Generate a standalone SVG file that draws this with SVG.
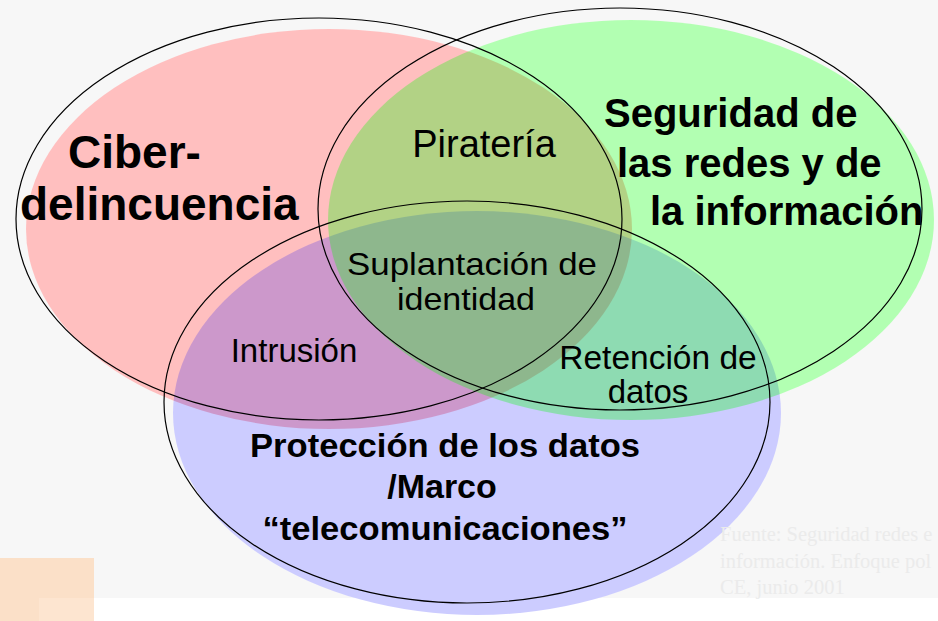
<svg xmlns="http://www.w3.org/2000/svg" width="938" height="621" viewBox="0 0 938 621">
<style>
.outline{fill:none;stroke:#000;stroke-width:1.2}
.title{font-family:"Liberation Sans",Arial,sans-serif;font-weight:bold;fill:#000}
.lbl{font-family:"Liberation Sans",Arial,sans-serif;fill:#000}
.src{font-family:"Liberation Serif","Times New Roman",serif;font-size:20.5px;fill:#ebebeb}
</style>
<rect x="0" y="0" width="938" height="598" fill="#f7f7f7"/>
<rect x="39" y="598" width="876" height="23" fill="#ffffff"/>
<rect x="0" y="558" width="94" height="63" fill="#fbe0c8"/>
<rect x="39" y="598" width="55" height="23" fill="#fde5d0"/>
<g id="fills">
  <ellipse cx="329" cy="229" rx="303" ry="200" fill="#fff"/>
  <ellipse cx="631" cy="220" rx="303" ry="200" fill="#fff"/>
  <ellipse cx="477" cy="413" rx="304" ry="202" fill="#fff"/>
  <ellipse cx="329" cy="229" rx="303" ry="200" fill="#ff0000" fill-opacity="0.25"/>
  <ellipse cx="477" cy="413" rx="304" ry="202" fill="#0000ff" fill-opacity="0.2"/>
  <ellipse cx="631" cy="220" rx="303" ry="200" fill="#00ff00" fill-opacity="0.3"/>
</g>
<g id="node-ciberdelincuencia">
  <ellipse class="outline" cx="319" cy="219" rx="303" ry="201"/>
  <text class="title" font-size="46" x="68" y="168">Ciber-</text>
  <text class="title" font-size="46" x="20" y="220">delincuencia</text>
</g>
<g id="node-seguridad">
  <ellipse class="outline" cx="620" cy="209" rx="302" ry="201"/>
  <text class="title" font-size="40" x="604" y="127">Seguridad de</text>
  <text class="title" font-size="40" x="617" y="177">las redes y de</text>
  <text class="title" font-size="40" x="650" y="225">la información</text>
</g>
<g id="node-proteccion">
  <ellipse class="outline" cx="467" cy="402" rx="303" ry="201"/>
  <text class="title" font-size="34" x="445" y="457" text-anchor="middle" textLength="390" lengthAdjust="spacingAndGlyphs">Protección de los datos</text>
  <text class="title" font-size="34" x="442" y="498" text-anchor="middle">/Marco</text>
  <text class="title" font-size="34" x="445" y="540" text-anchor="middle" textLength="365" lengthAdjust="spacingAndGlyphs">“telecomunicaciones”</text>
</g>
<g id="label-pirateria">
  <text class="lbl" font-size="38" x="484" y="157" text-anchor="middle">Piratería</text>
</g>
<g id="label-suplantacion">
  <text class="lbl" font-size="32" x="472" y="275" text-anchor="middle" textLength="250" lengthAdjust="spacingAndGlyphs">Suplantación de</text>
  <text class="lbl" font-size="32" x="466" y="310" text-anchor="middle" textLength="138" lengthAdjust="spacingAndGlyphs">identidad</text>
</g>
<g id="label-intrusion">
  <text class="lbl" font-size="33" x="294" y="362" text-anchor="middle">Intrusión</text>
</g>
<g id="label-retencion">
  <text class="lbl" font-size="33.5" x="658" y="369" text-anchor="middle">Retención de</text>
  <text class="lbl" font-size="33" x="648" y="403" text-anchor="middle">datos</text>
</g>
<g id="source">
  <text class="src" x="720" y="541">Fuente: Seguridad redes e</text>
  <text class="src" x="720" y="568">información. Enfoque pol</text>
  <text class="src" x="720" y="594">CE, junio 2001</text>
</g>
</svg>
